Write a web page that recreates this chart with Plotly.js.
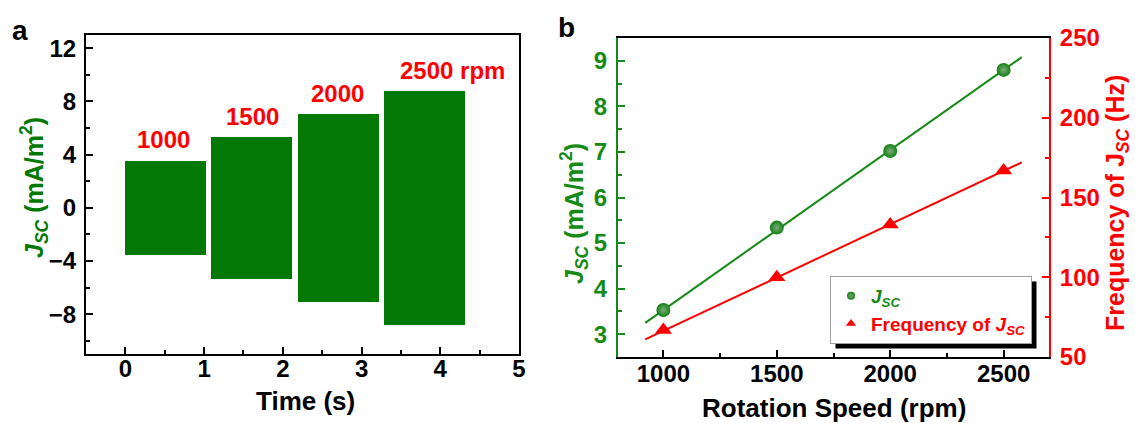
<!DOCTYPE html>
<html><head><meta charset="utf-8">
<script src="https://cdn.plot.ly/plotly-3.0.1.min.js"></script>
<style>html,body{margin:0;padding:0;background:#fff}#chart{width:1135px;height:423px}</style>
</head><body><div id="chart"></div>
<script>
// ---------- Panel a data ----------
const rpmLabels = ['1000', '1500', '2000', '2500 rpm'];
const segStart  = [0, 1.09, 2.19, 3.29];
const segEnd    = [1.02, 2.12, 3.22, 4.32];
const segTop    = [3.5, 5.3, 7.05, 8.8];
const segBottom = [-3.55, -5.35, -7.05, -8.8];
const labelX    = [0.49, 1.61, 2.69, 4.16];
const labelY    = [5.15, 6.9, 8.63, 10.3];

// ---------- Panel b data ----------
const speed = [1000, 1500, 2000, 2500];
const jsc   = [3.53, 5.34, 7.02, 8.80];
const freq  = [67, 100, 133, 167];
const fitX  = [920, 2580];
const fitJ  = [3.25, 9.08];
const fitF  = [61, 172];

const W = 1135, H = 423;
const FONT = 'Liberation Sans, Arial, sans-serif';
const GREEN_A = '#037803';
const GREEN = '#168a16';
const RED = '#ff0000';

const tf = (size, color) => ({family: FONT, size: size, color: color || '#000', weight: 'bold'});

const nameJ = '<span style="color:' + GREEN + '"><i>J</i><sub><i>SC</i></sub></span>';
const nameF = '<span style="color:' + RED + '">Frequency of <i>J</i><sub><i>SC</i></sub></span>';

const data = [
  {
    type: 'bar', xaxis: 'x', yaxis: 'y',
    x: segStart.map((s, i) => (s + segEnd[i]) / 2),
    width: segStart.map((s, i) => segEnd[i] - s),
    base: segBottom,
    y: segTop.map((t, i) => t - segBottom[i]),
    marker: {color: GREEN_A, line: {width: 0}},
    showlegend: false, hoverinfo: 'skip'
  },
  {
    type: 'scatter', mode: 'lines', xaxis: 'x2', yaxis: 'y2',
    x: fitX, y: fitJ, line: {color: GREEN, width: 2}, showlegend: false
  },
  {
    type: 'scatter', mode: 'lines', xaxis: 'x2', yaxis: 'y3',
    x: fitX, y: fitF, line: {color: RED, width: 2}, showlegend: false
  },
  {
    type: 'scatter', mode: 'markers', xaxis: 'x2', yaxis: 'y2',
    x: speed, y: jsc, showlegend: false,
    marker: {symbol: 'circle', size: 14, color: '#127f12', gradient: {type: 'radial', color: '#7aac7a'}, line: {width: 0}}
  },
  {
    type: 'scatter', mode: 'markers', xaxis: 'x2', yaxis: 'y3',
    x: speed, y: freq, showlegend: false,
    marker: {symbol: 'triangle-up', size: 15, color: RED, line: {width: 0}}
  },
  // legend entries (smaller symbols, as in the reference legend)
  {
    type: 'scatter', mode: 'markers', xaxis: 'x2', yaxis: 'y2',
    x: [null], y: [null], name: nameJ,
    marker: {symbol: 'circle', size: 8, color: '#127f12', gradient: {type: 'radial', color: '#7aac7a'}, line: {width: 0}}
  },
  {
    type: 'scatter', mode: 'markers', xaxis: 'x2', yaxis: 'y3',
    x: [null], y: [null], name: nameF,
    marker: {symbol: 'triangle-up', size: 9, color: RED, line: {width: 0}}
  }
];

const baseAxis = {
  showgrid: false, zeroline: false, ticks: 'inside', ticklen: 7, tickwidth: 2,
  linewidth: 2, showline: true, automargin: false, fixedrange: true
};

const layout = {
  width: W, height: H,
  margin: {l: 0, r: 0, t: 0, b: 0},
  paper_bgcolor: '#fff', plot_bgcolor: 'rgba(0,0,0,0)',
  bargap: 0,
  showlegend: true,
  legend: {
    x: 830 / W, y: (H - 276) / H, xanchor: 'left', yanchor: 'top',
    bgcolor: '#fff', bordercolor: '#a0a0a0', borderwidth: 1,
    font: {family: FONT, size: 19, weight: 'bold'},
    itemsizing: 'trace', tracegroupgap: 0
  },
  xaxis: Object.assign({}, baseAxis, {
    domain: [86 / W, 519 / W], anchor: 'y', range: [-0.5, 5], tick0: 0, dtick: 1,
    linecolor: '#000', tickcolor: '#000', mirror: true, tickfont: tf(24), ticklabelstandoff: -8,
    minor: {dtick: 0.5, ticks: 'inside', ticklen: 4, tickwidth: 2, tickcolor: '#000'}
  }),
  yaxis: Object.assign({}, baseAxis, {
    domain: [(H - 354) / H, (H - 35) / H], anchor: 'x', range: [-11, 13], tick0: 0, dtick: 4,
    linecolor: '#000', tickcolor: '#000', mirror: true, tickfont: tf(24), ticklabelstandoff: 3,
    minor: {dtick: 2, ticks: 'inside', ticklen: 4, tickwidth: 2, tickcolor: '#000'}
  }),
  xaxis2: Object.assign({}, baseAxis, {
    domain: [618 / W, 1049 / W], anchor: 'y2', range: [800, 2700], tick0: 0, dtick: 500,
    linecolor: '#000', tickcolor: '#000', mirror: true, tickfont: tf(24), ticklabelstandoff: -6,
    minor: {dtick: 250, ticks: 'inside', ticklen: 4, tickwidth: 2, tickcolor: '#000'}
  }),
  yaxis2: Object.assign({}, baseAxis, {
    domain: [(H - 357) / H, (H - 38) / H], anchor: 'x2', range: [2.5, 9.5], tick0: 0, dtick: 1,
    linecolor: GREEN, tickcolor: GREEN, tickfont: tf(24, GREEN), ticklabelstandoff: 4,
    minor: {dtick: 0.5, ticks: 'inside', ticklen: 4, tickwidth: 2, tickcolor: GREEN}
  }),
  yaxis3: Object.assign({}, baseAxis, {
    overlaying: 'y2', side: 'right', anchor: 'x2', range: [50, 250], tick0: 0, dtick: 50,
    linecolor: RED, tickcolor: RED, tickfont: tf(24, RED), ticklabelstandoff: 4,
    minor: {dtick: 25, ticks: 'inside', ticklen: 4, tickwidth: 2, tickcolor: RED}
  }),
  annotations: [
    // rpm labels in panel a
    ...rpmLabels.map((t, i) => ({
      xref: 'x', yref: 'y', x: labelX[i], y: labelY[i], text: t, showarrow: false,
      font: tf(24, RED), xanchor: 'center', yanchor: 'middle'
    })),
    // panel letters
    {xref: 'paper', yref: 'paper', x: 10 / W, y: (H - 31) / H, text: 'a', showarrow: false,
     font: tf(28), xanchor: 'left', yanchor: 'middle'},
    {xref: 'paper', yref: 'paper', x: 556 / W, y: (H - 28) / H, text: 'b', showarrow: false,
     font: tf(28), xanchor: 'left', yanchor: 'middle'},
    // axis titles
    {xref: 'paper', yref: 'paper', x: 305 / W, y: (H - 401) / H, text: 'Time (s)', showarrow: false,
     font: tf(26), xanchor: 'center', yanchor: 'middle'},
    {xref: 'paper', yref: 'paper', x: 834 / W, y: (H - 408) / H, text: 'Rotation Speed (rpm)', showarrow: false,
     font: tf(26), xanchor: 'center', yanchor: 'middle'},
    {xref: 'paper', yref: 'paper', x: 34 / W, y: (H - 188) / H, textangle: -90,
     text: '<i>J</i><sub><i>SC</i></sub> (mA/m<sup>2</sup>)', showarrow: false,
     font: tf(25, GREEN_A), xanchor: 'center', yanchor: 'middle'},
    {xref: 'paper', yref: 'paper', x: 574 / W, y: (H - 214) / H, textangle: -90,
     text: '<i>J</i><sub><i>SC</i></sub> (mA/m<sup>2</sup>)', showarrow: false,
     font: tf(25, GREEN), xanchor: 'center', yanchor: 'middle'},
    {xref: 'paper', yref: 'paper', x: 1117 / W, y: (H - 203) / H, textangle: -90,
     text: 'Frequency of J<sub><i>SC</i></sub> (Hz)', showarrow: false,
     font: tf(25, RED), xanchor: 'center', yanchor: 'middle'}
  ]
};

Plotly.newPlot('chart', data, layout, {displayModeBar: false, staticPlot: true}).then(gd => {
  const bg = gd.querySelector('.legend .bg');
  if (!bg) return;
  const r = bg.getBoundingClientRect();
  const c = gd.getBoundingClientRect();
  const off = 5;
  Plotly.relayout(gd, {shapes: [{
    type: 'rect', xref: 'paper', yref: 'paper', layer: 'above',
    x0: (r.left - c.left + off) / W, x1: (r.right - c.left + off) / W,
    y0: 1 - (r.bottom - c.top + off) / H, y1: 1 - (r.top - c.top + off) / H,
    fillcolor: '#000', line: {width: 0}
  }]});
});
</script>
</body></html>
